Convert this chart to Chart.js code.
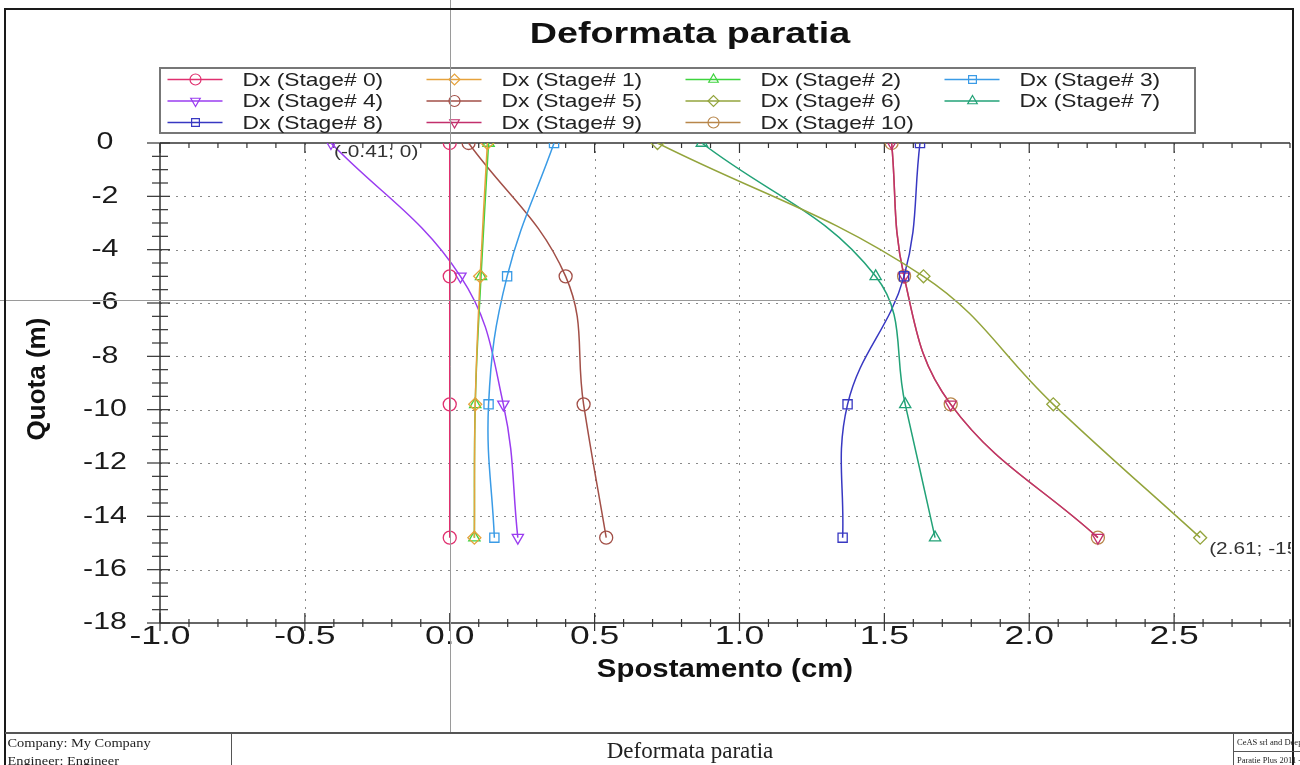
<!DOCTYPE html>
<html>
<head>
<meta charset="utf-8">
<title>Deformata paratia</title>
<script src="https://cdn.jsdelivr.net/npm/chart.js@4.4.1/dist/chart.umd.min.js"></script>
<style>
    html, body { margin: 0; padding: 0; background: #fff; }
    #wrap { position: relative; width: 1300px; height: 765px; overflow: hidden; font-family: Arial, "Liberation Sans", sans-serif; }
    #chart { position: absolute; left: 0; top: 0; }
    #frame { position: absolute; left: 4px; top: 8px; width: 1290px; height: 770px; border: 2px solid #1a1a1a; box-sizing: border-box; pointer-events: none; }
    #footer { position: absolute; left: 5px; top: 732px; width: 1288px; height: 40px; border-top: 2px solid #555; font-family: "Liberation Serif", "DejaVu Serif", serif; color: #222; }
    #footer .fl { position: absolute; left: 0; top: 0; width: 227px; height: 40px; border-right: 1px solid #555; font-size: 12px; line-height: 18px; box-sizing: border-box; }
    #footer .fl div { transform: scaleX(1.2); transform-origin: 0 0; padding-left: 2px; white-space: nowrap; }
    #footer .fm { position: absolute; left: 0; width: 1370px; top: 4px; text-align: center; font-size: 23px; }
    #footer .fr { position: absolute; left: 1228px; top: 0; width: 70px; height: 40px; border-left: 1px solid #555; font-size: 8.5px; overflow: hidden; white-space: nowrap; }
    #footer .fr div { height: 17px; line-height: 17px; padding-left: 3px; }
    #footer .fr div:first-child { border-bottom: 1px solid #555; }
</style>
</head>
<body>
<div id="wrap">
    <canvas id="chart" width="1300" height="733"></canvas>
    <div id="frame"></div>
    <div id="footer">
        <div class="fl"><div>Company: My Company</div><div>Engineer: Engineer</div></div>
        <div class="fm">Deformata paratia</div>
        <div class="fr"><div>CeAS srl and Deep</div><div>Paratie Plus 2011 -</div></div>
    </div>
</div>

<script>
// depth of the result nodes (m)
const depthM = [0, -5, -9.8, -14.8];

const stageLabels = [
    'Dx (Stage# 0)', 'Dx (Stage# 1)', 'Dx (Stage# 2)', 'Dx (Stage# 3)',
    'Dx (Stage# 4)', 'Dx (Stage# 5)', 'Dx (Stage# 6)', 'Dx (Stage# 7)',
    'Dx (Stage# 8)', 'Dx (Stage# 9)', 'Dx (Stage# 10)'
];

// horizontal displacement (cm) at each depth, per stage
const dxStage0 = [0, 0, 0, 0];
const dxStage1 = [0.13, 0.105, 0.088, 0.085];
const dxStage2 = [0.134, 0.108, 0.088, 0.085];
const dxStage3 = [0.36, 0.198, 0.134, 0.154];
const dxStage4 = [-0.41, 0.037, 0.185, 0.235];
const dxStage5 = [0.065, 0.40, 0.462, 0.54];
const dxStage6 = [0.717, 1.635, 2.083, 2.59];
const dxStage7 = [0.87, 1.47, 1.572, 1.675];
const dxStage8 = [1.623, 1.568, 1.373, 1.356];
const dxStage9 = [1.525, 1.568, 1.729, 2.237];
const dxStage10 = [1.525, 1.568, 1.729, 2.237];

const xTicks = [-1.0, -0.5, 0.0, 0.5, 1.0, 1.5, 2.0, 2.5];
const yTicks = [0, -2, -4, -6, -8, -10, -12, -14, -16, -18];

// value notes shown on the plot
const noteX = [-0.41, 2.59];
const noteY = [0, -14.8];
const noteText = ['(-0.41; 0)', '(2.61; -15)'];

// cursor crosshair left on the screenshot
const crossX = 0;
const crossY = -5.9;

const allStages = [dxStage0, dxStage1, dxStage2, dxStage3, dxStage4, dxStage5,
    dxStage6, dxStage7, dxStage8, dxStage9, dxStage10];

const colors = ['#e0306f', '#e6a23c', '#3ed43e', '#3a9be6', '#9a3cf0', '#a24f47',
    '#93a43c', '#22a277', '#3838c2', '#c22f6c', '#b8864a'];
const markers = ['circle', 'rectRot', 'triangle', 'rect', 'triangle', 'circle',
    'rectRot', 'triangle', 'rect', 'triangle', 'circle'];
const rotations = [0, 0, 0, 0, 180, 0, 0, 0, 0, 180, 0];

const FONT = 'Arial, "Liberation Sans", sans-serif';

const datasets = allStages.map((dx, i) => ({
    label: stageLabels[i],
    data: dx.map((v, k) => ({ x: v, y: depthM[k] })),
    showLine: true,
    tension: 0.4,
    borderColor: colors[i],
    borderWidth: 1.5,
    pointStyle: markers[i],
    pointRotation: rotations[i],
    pointRadius: 6.5,
    pointBorderWidth: 1.3,
    pointBorderColor: colors[i],
    pointBackgroundColor: 'rgba(0,0,0,0)'
}));

function line(ctx, x1, y1, x2, y2) {
    ctx.beginPath();
    ctx.moveTo(x1, y1);
    ctx.lineTo(x2, y2);
    ctx.stroke();
}

// the screenshot is stretched sideways, so text is drawn with a horizontal scale
function text(ctx, str, x, y, font, sx, align, rot) {
    ctx.save();
    ctx.font = font;
    ctx.textAlign = align || 'center';
    ctx.textBaseline = 'middle';
    ctx.translate(x, y);
    if (rot) ctx.rotate(rot);
    ctx.scale(sx, 1);
    ctx.fillText(str, 0, 0);
    ctx.restore();
}

const axesPlugin = {
    id: 'axesPlugin',
    beforeDatasetsDraw(chart) {
        const { ctx, chartArea: a } = chart;
        const xs = chart.scales.x, ys = chart.scales.y;
        ctx.save();

        // dotted grid
        ctx.strokeStyle = '#8a8a8a';
        ctx.lineWidth = 1;
        ctx.setLineDash([2, 6]);
        xs.ticks.slice(1).forEach(t => {
            const px = Math.round(xs.getPixelForValue(t.value)) + 0.5;
            line(ctx, px, a.top, px, a.bottom);
        });
        ys.ticks.slice(1, -1).forEach(t => {
            const py = Math.round(ys.getPixelForValue(t.value)) + 0.5;
            line(ctx, a.left, py, a.right, py);
        });
        ctx.setLineDash([]);

        // axis lines
        ctx.strokeStyle = '#333';
        ctx.lineWidth = 1.5;
        line(ctx, a.left, a.top, a.right, a.top);
        line(ctx, a.left, a.top, a.left, a.bottom);
        line(ctx, a.left, a.bottom, a.right, a.bottom);

        // tick marks, x every 0.1, y every 0.5
        ctx.lineWidth = 1.2;
        for (let i = 0; i <= 39; i++) {
            const px = xs.getPixelForValue(-1 + i * 0.1);
            const major = i % 5 === 0;
            line(ctx, px, a.bottom - (major ? 10 : 4), px, a.bottom + (major ? 8 : 4));
            line(ctx, px, a.top, px, a.top + (major ? 10 : 5));
        }
        for (let i = 0; i <= 36; i++) {
            const py = ys.getPixelForValue(-i * 0.5);
            const major = i % 4 === 0;
            line(ctx, a.left - (major ? 13 : 8), py, a.left + (major ? 10 : 8), py);
        }

        // tick labels and axis titles
        ctx.fillStyle = '#1a1a1a';
        xs.ticks.forEach(t => {
            text(ctx, t.value.toFixed(1), xs.getPixelForValue(t.value), a.bottom + 14, '25px ' + FONT, 1.42);
        });
        ys.ticks.forEach(t => {
            text(ctx, String(t.value), 105, ys.getPixelForValue(t.value), '23px ' + FONT, 1.32);
        });
        ctx.fillStyle = '#111';
        text(ctx, 'Spostamento (cm)', (a.left + a.right) / 2, 670, 'bold 26px ' + FONT, 1.13);
        text(ctx, 'Quota (m)', 38, 379, 'bold 25px ' + FONT, 1.04, 'center', -Math.PI / 2);
        ctx.restore();
    },
    afterDatasetsDraw(chart) {
        const { ctx } = chart;
        const xs = chart.scales.x, ys = chart.scales.y;
        ctx.save();
        ctx.beginPath();
        ctx.rect(0, 0, 1291, chart.height);
        ctx.clip();
        ctx.fillStyle = '#333';
        noteText.forEach((t, i) => {
            const px = xs.getPixelForValue(noteX[i]);
            const py = ys.getPixelForValue(noteY[i]);
            if (i === 0) text(ctx, t, px + 3, py + 10, '16px ' + FONT, 1.3, 'left');
            else text(ctx, t, px + 9, py + 12, '16px ' + FONT, 1.3, 'left');
        });
        ctx.restore();
    },
    afterDraw(chart) {
        const { ctx } = chart;
        ctx.save();

        // main title
        ctx.fillStyle = '#111';
        text(ctx, 'Deformata paratia', 690, 35, 'bold 29px ' + FONT, 1.3);

        // legend box
        ctx.strokeStyle = '#777';
        ctx.lineWidth = 2;
        ctx.strokeRect(160, 68, 1035, 65);
        datasets.forEach((ds, i) => {
            const mx = 195.5 + (i % 4) * 259;
            const my = 79.5 + Math.floor(i / 4) * 21.5;
            ctx.strokeStyle = ds.borderColor;
            ctx.lineWidth = 1.3;
            line(ctx, mx - 28, my, mx + 27, my);
            ctx.lineWidth = 1.2;
            ctx.fillStyle = 'rgba(0,0,0,0)';
            Chart.helpers.drawPoint(ctx, { pointStyle: ds.pointStyle, rotation: ds.pointRotation, radius: 5.5, borderWidth: 1.2 }, mx, my);
            ctx.fillStyle = '#222';
            text(ctx, ds.label, mx + 47, my + 1, '19px ' + FONT, 1.2, 'left');
        });

        // crosshair
        const px = Math.round(chart.scales.x.getPixelForValue(crossX)) + 0.5;
        const py = Math.round(chart.scales.y.getPixelForValue(crossY)) + 0.5;
        ctx.strokeStyle = '#9a9a9a';
        ctx.lineWidth = 1;
        line(ctx, px, 0, px, chart.height);
        line(ctx, 0, py, 1291, py);
        ctx.restore();
    }
};

new Chart(document.getElementById('chart'), {
    type: 'scatter',
    data: { datasets },
    options: {
        responsive: false,
        animation: false,
        events: [],
        layout: { padding: { top: 143, right: 10, bottom: 0, left: 0 } },
        plugins: { legend: { display: false }, title: { display: false }, tooltip: { enabled: false } },
        scales: {
            x: {
                type: 'linear',
                min: -1,
                max: 2.9,
                afterBuildTicks: s => { s.ticks = xTicks.map(v => ({ value: v })); },
                afterFit: s => { s.height = 110; },
                grid: { display: false, drawTicks: false },
                border: { display: false },
                ticks: { display: false }
            },
            y: {
                type: 'linear',
                min: -18,
                max: 0,
                afterBuildTicks: s => { s.ticks = yTicks.map(v => ({ value: v })); },
                afterFit: s => { s.width = 160; },
                grid: { display: false, drawTicks: false },
                border: { display: false },
                ticks: { display: false }
            }
        }
    },
    plugins: [axesPlugin]
});
</script>
</body>
</html>
